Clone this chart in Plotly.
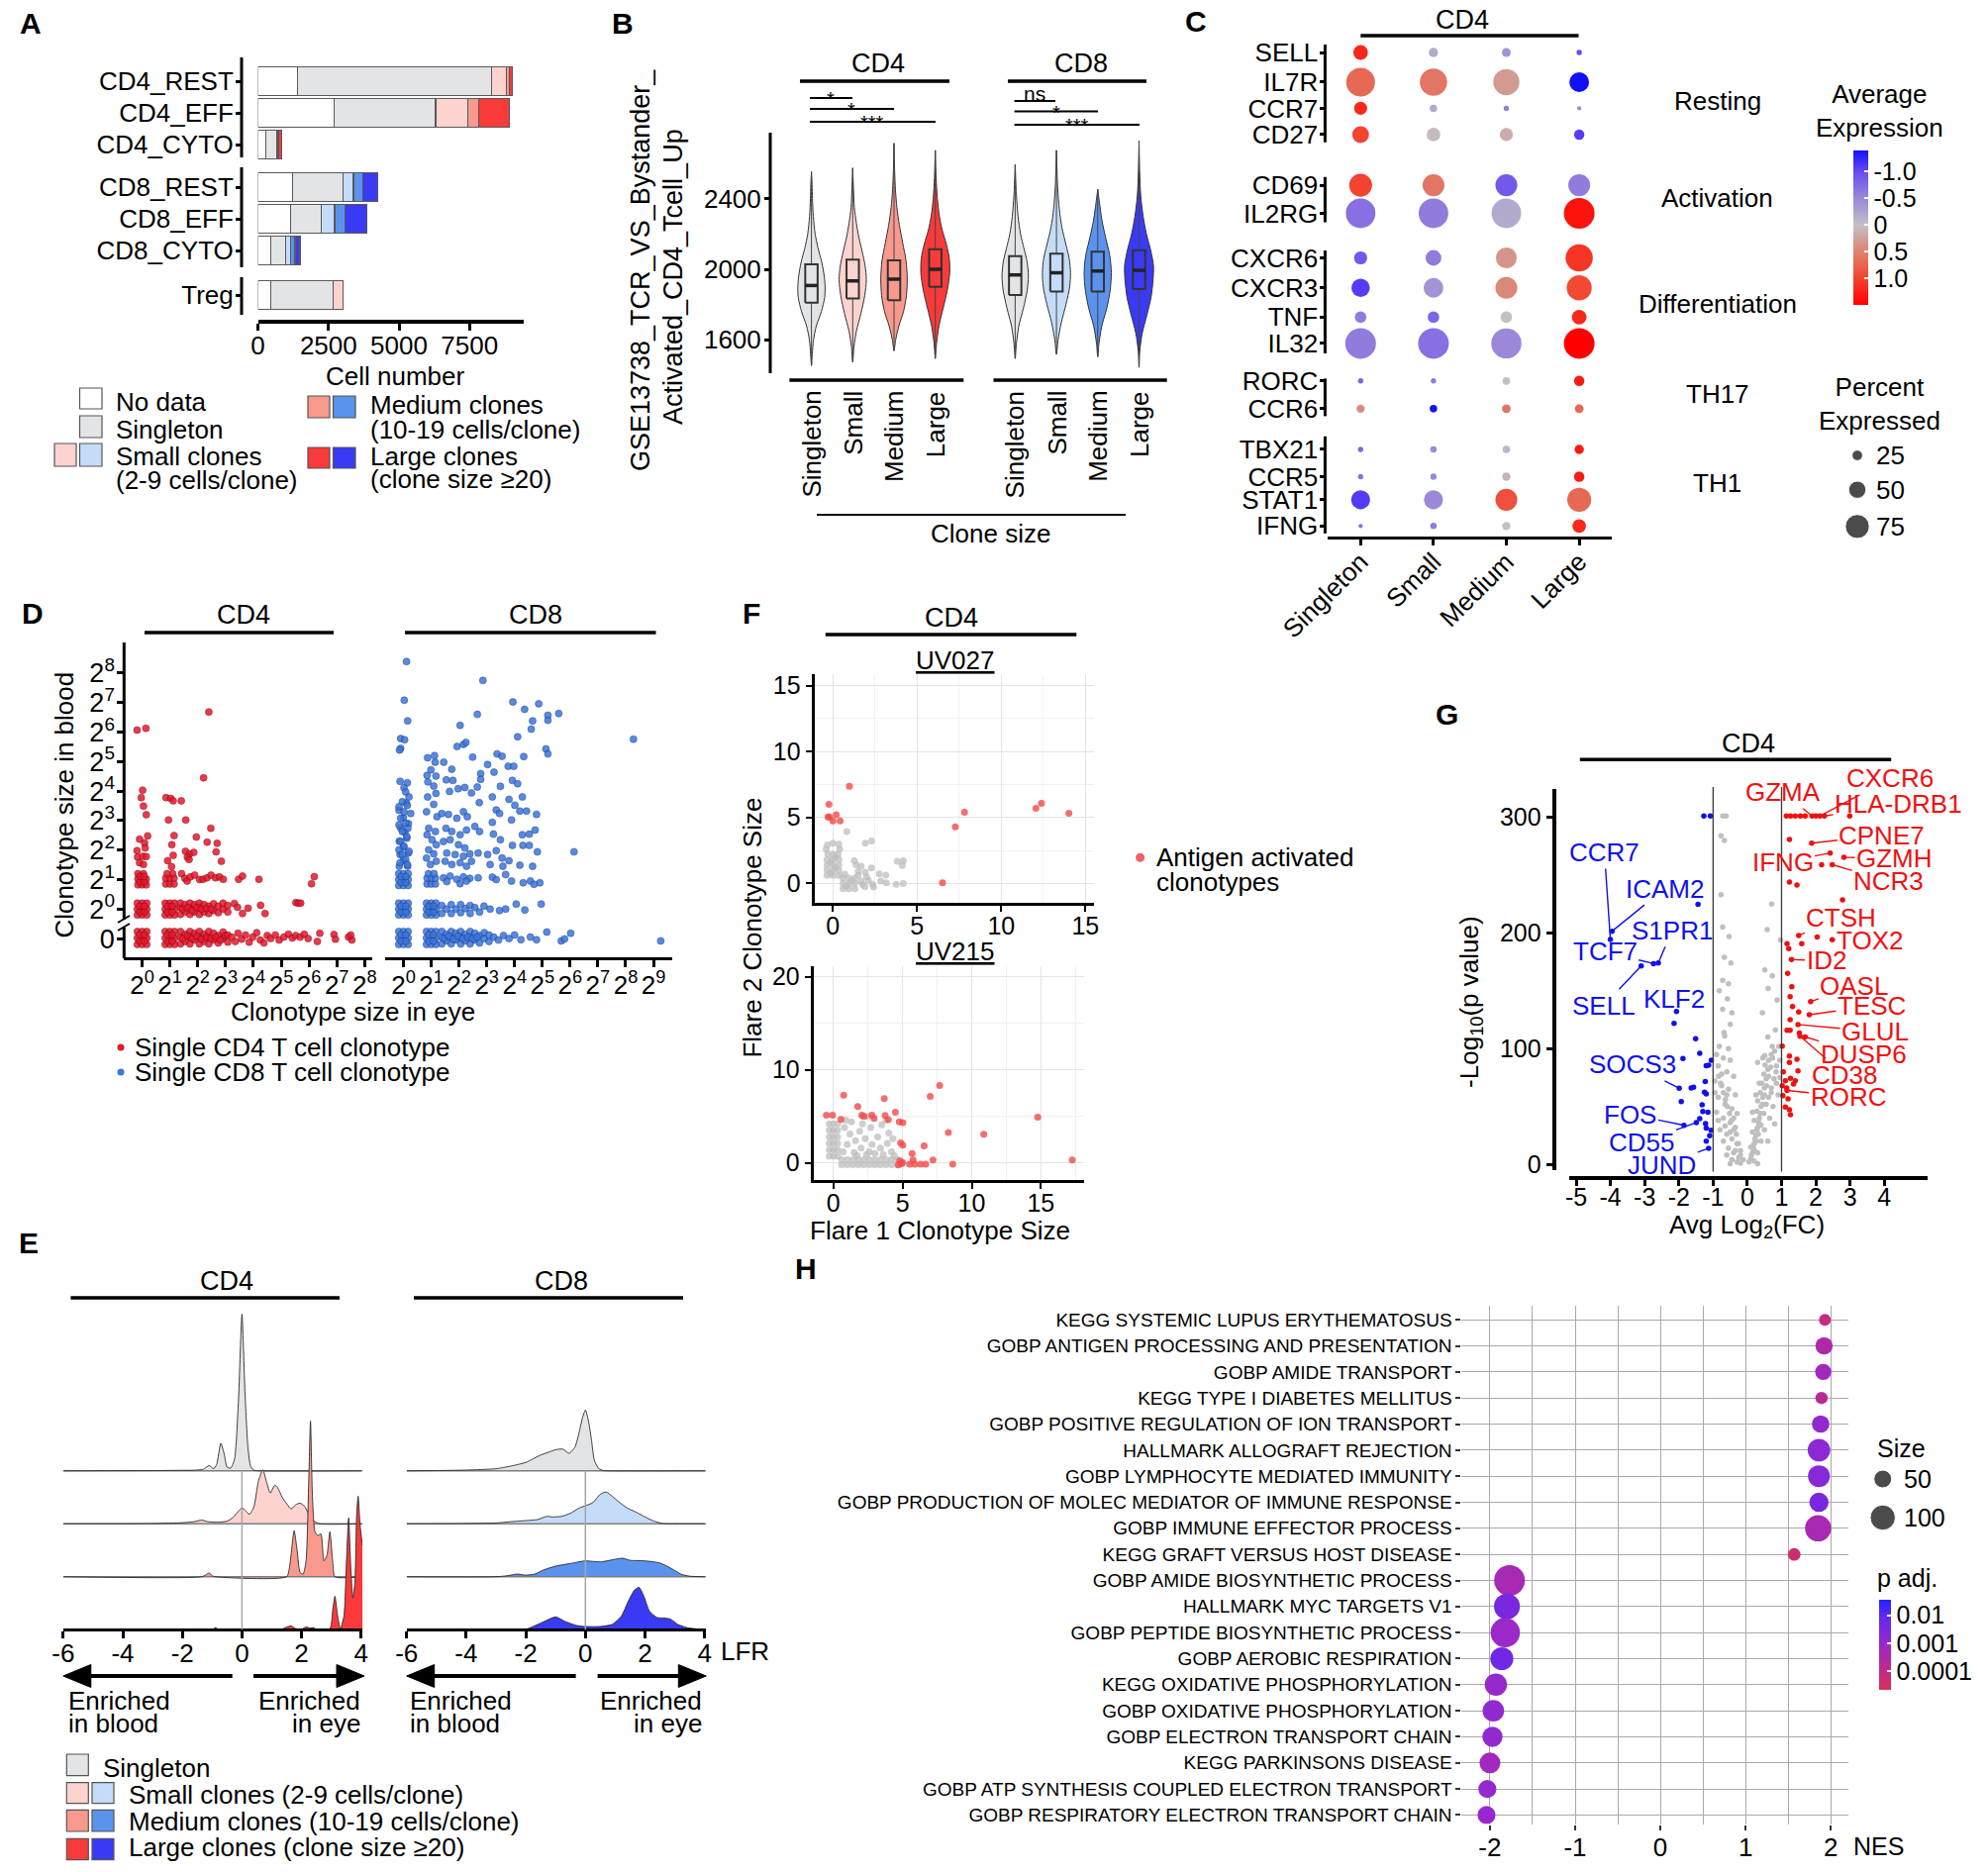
import math
import plotly.graph_objects as go

W, H = 2008, 1891
FONT = "Liberation Sans, Arial, Helvetica, sans-serif"

# ============================ DATA ============================
# ---- Panel A: cell numbers per cluster, split by clone-size class
A_CLUSTERS = ["CD4_REST", "CD4_EFF", "CD4_CYTO", "CD8_REST", "CD8_EFF", "CD8_CYTO", "Treg"]
A_LINEAGE = ["CD4", "CD4", "CD4", "CD8", "CD8", "CD8", "CD4"]
A_NODATA = [1407, 2691, 270, 1229, 1147, 464, 464]
A_SINGLETON = [6885, 3606, 380, 1776, 1107, 519, 2213]
A_SMALL = [520, 1148, 30, 383, 464, 164, 328]
A_MEDIUM = [95, 382, 40, 328, 356, 164, 0]
A_LARGE = [110, 1093, 110, 519, 792, 178, 0]
A_XTICKS = [0, 2500, 5000, 7500]

# ---- Panel B: module score by clone size (min, q1, median, q3, max) + violin profiles
B_LABELS = ["Singleton", "Small", "Medium", "Large", "Singleton", "Small", "Medium", "Large"]
B_MIN = [1454, 1474, 1538, 1494, 1494, 1518, 1504, 1444]
B_Q1 = [1810, 1834, 1824, 1900, 1854, 1874, 1874, 1888]
B_MED = [1908, 1934, 1944, 2000, 1968, 1980, 1990, 1994]
B_Q3 = [2028, 2054, 2050, 2114, 2074, 2088, 2100, 2108]
B_MAX = [2554, 2574, 2714, 2674, 2594, 2674, 2454, 2728]
B_PROFILES = [  # (score, half-density)
    [(1454, 0), (1520, .02), (1600, .05), (1680, .12), (1760, .24), (1840, .32), (1900, .33), (1960, .31), (2040, .25), (2120, .16), (2200, .09), (2300, .045), (2400, .025), (2480, .015), (2554, 0)],
    [(1474, 0), (1560, .03), (1650, .09), (1750, .2), (1850, .29), (1940, .33), (2020, .3), (2100, .23), (2180, .15), (2260, .09), (2350, .04), (2450, .02), (2574, 0)],
    [(1538, 0), (1600, .04), (1680, .12), (1760, .23), (1850, .3), (1950, .32), (2050, .29), (2150, .21), (2250, .13), (2350, .07), (2450, .035), (2560, .015), (2714, 0)],
    [(1494, 0), (1580, .03), (1680, .09), (1780, .19), (1880, .29), (1980, .35), (2060, .34), (2140, .27), (2220, .17), (2300, .1), (2400, .05), (2520, .02), (2674, 0)],
    [(1494, 0), (1580, .03), (1680, .09), (1780, .2), (1880, .29), (1960, .32), (2040, .29), (2120, .21), (2200, .13), (2300, .07), (2420, .03), (2594, 0)],
    [(1518, 0), (1600, .04), (1700, .12), (1800, .23), (1900, .32), (1980, .34), (2060, .31), (2140, .23), (2240, .13), (2340, .07), (2460, .03), (2674, 0)],
    [(1504, 0), (1580, .03), (1680, .1), (1780, .22), (1880, .3), (1980, .33), (2080, .29), (2180, .19), (2280, .1), (2380, .04), (2454, 0)],
    [(1444, 0), (1540, .02), (1640, .08), (1740, .19), (1840, .29), (1940, .34), (2020, .35), (2100, .29), (2200, .18), (2300, .1), (2420, .04), (2560, .015), (2728, 0)],
]
B_SIG_CD4 = ["*", "*", "***"]
B_SIG_CD8 = ["ns", "*", "***"]

# ---- Panel C: dot plot (percent expressed, average expression)
C_GENES = ["SELL", "IL7R", "CCR7", "CD27", "CD69", "IL2RG", "CXCR6", "CXCR3", "TNF", "IL32",
           "RORC", "CCR6", "TBX21", "CCR5", "STAT1", "IFNG"]
C_GROUPS = ["Singleton", "Small", "Medium", "Large"]
C_PCT = [[40, 20, 18, 5], [93, 87, 83, 59], [34, 13, 5, 1], [48, 36, 34, 24],
         [71, 67, 67, 67], [96, 96, 96, 100], [34, 44, 63, 87], [54, 59, 67, 79],
         [28, 28, 28, 40], [100, 100, 98, 100], [5, 5, 14, 24], [16, 13, 18, 18],
         [5, 9, 13, 20], [5, 9, 16, 24], [56, 56, 67, 75], [1, 9, 16, 36]]
C_AVG = [[1.2, -0.2, -0.4, -1.0], [0.7, 0.6, 0.3, -1.4], [1.2, -0.2, -0.6, -0.5], [1.0, 0.05, 0.15, -1.1],
         [1.0, 0.6, -0.9, -0.6], [-0.7, -0.6, -0.2, 1.35], [-0.9, -0.6, 0.35, 1.1], [-1.1, -0.4, 0.45, 0.95],
         [-0.6, -0.8, 0.0, 1.2], [-0.6, -0.7, -0.5, 1.5], [-0.8, -0.6, 0.0, 1.3], [0.4, -1.5, 0.6, 0.7],
         [-0.8, -0.5, -0.1, 1.3], [-0.7, -0.5, 0.1, 1.3], [-1.1, -0.5, 0.9, 0.7], [-0.7, -0.6, 0.0, 1.2]]
C_MODULES = ["Resting", "Activation", "Differentiation", "TH17", "TH1"]
C_SIZE_LEGEND = [25, 50, 75]

# ---- Panel D: clonotypes, log2(size in eye), log2(size in blood) (-1 = absent from blood)
D_CD4 = [
    (-0.17, -1.2), (0, -1.2), (0.17, -1.2), (-0.17, -0.98), (0, -0.98), (0.17, -0.98), (-0.17, -0.76), (0, -0.76), (0.17, -0.76),
    (-0.085, -1.09), (0.085, -1.09), (-0.085, -0.87), (0.085, -0.87),
    (-0.17, -0.2), (0, -0.2), (0.17, -0.2), (-0.17, 0), (0, 0), (0.17, 0), (-0.17, 0.2), (0, 0.2), (0.17, 0.2),
    (-0.085, -0.1), (0.085, -0.1), (-0.085, 0.1), (0.085, 0.1),
    (-0.15, 0.82), (0, 0.82), (0.15, 0.82), (-0.15, 1.02), (0, 1.02), (0.15, 1.02), (-0.15, 1.2), (0.05, 1.2),
    (-0.075, 0.92), (0.075, 0.92), (-0.075, 1.11), (0.075, 1.11),
    (0.83, -1.2), (1.0, -1.2), (1.17, -1.2), (0.83, -0.98), (1.0, -0.98), (1.17, -0.98), (0.83, -0.76), (1.0, -0.76), (1.17, -0.76),
    (0.915, -1.09), (1.085, -1.09), (0.915, -0.87), (1.085, -0.87),
    (1.38, -1.18), (1.38, -0.95), (1.38, -0.76), (1.55, -1.1), (1.55, -0.85), (1.72, -1.18), (1.72, -0.95), (1.72, -0.76),
    (1.89, -1.05), (1.89, -0.82), (2.06, -1.18), (2.06, -0.95), (2.06, -0.76), (2.23, -1.1), (2.23, -0.85), (2.4, -1.18),
    (2.4, -0.95), (2.4, -0.76), (2.57, -1.05), (2.57, -0.82), (2.74, -1.15), (2.74, -0.9), (2.91, -1.0), (2.91, -0.78),
    (1.46, -1.0), (1.63, -0.9), (1.8, -1.0), (1.97, -0.92), (2.14, -1.02), (2.31, -0.95), (2.48, -1.0), (2.65, -0.95),
    (2.82, -1.05), (3.0, -0.9),
    (3.08, -1.12), (3.08, -0.88), (3.22, -0.95), (3.35, -1.1), (3.45, -0.82), (3.58, -1.02), (3.72, -0.88), (3.85, -1.12),
    (3.98, -0.95), (4.12, -0.8), (4.25, -1.05), (4.38, -1.15), (4.5, -0.9), (4.62, -1.0), (4.79, -0.88), (4.93, -1.05),
    (5.1, -0.95), (5.26, -0.85), (5.4, -0.98), (5.52, -0.9), (5.68, -0.95), (5.83, -0.85), (5.97, -1.0), (6.3, -1.1),
    (6.39, -0.82), (6.9, -0.86), (6.95, -1.02), (7.42, -0.95), (7.54, -1.05), (7.5, -0.88),
    (0.83, -0.2), (1.0, -0.2), (1.17, -0.2), (0.83, 0), (1.0, 0), (1.17, 0), (0.83, 0.2), (1.0, 0.2), (1.17, 0.2),
    (0.915, -0.1), (1.085, -0.1), (0.915, 0.1), (1.085, 0.1),
    (1.38, -0.18), (1.38, 0.05), (1.38, 0.2), (1.55, -0.1), (1.55, 0.15), (1.72, -0.18), (1.72, 0.05), (1.72, 0.2),
    (1.89, -0.1), (1.89, 0.15), (2.06, -0.18), (2.06, 0.05), (2.06, 0.2), (2.23, -0.1), (2.23, 0.15), (2.4, -0.15),
    (2.4, 0.1), (2.57, -0.05), (2.57, 0.18), (2.74, -0.12), (2.74, 0.1), (2.91, 0.0), (2.91, 0.2), (3.08, -0.1), (3.08, 0.12),
    (1.46, 0.0), (1.63, 0.05), (1.8, -0.05), (1.97, 0.05), (2.14, 0.0), (2.31, 0.02), (2.48, 0.0),
    (3.32, 0.19), (3.43, 0.06), (3.61, -0.15), (3.81, 0.03), (4.26, 0.13), (4.42, -0.15), (5.53, 0.22), (5.62, 0.2), (5.7, 0.2),
    (0.85, 0.85), (1.0, 0.85), (1.15, 0.85), (0.85, 1.05), (1.0, 1.05), (1.15, 1.05), (0.9, 1.2), (1.1, 1.2),
    (1.42, 1.2), (1.54, 1.04), (1.62, 0.95), (1.74, 1.09), (1.89, 1.15), (2.07, 1.0), (2.19, 1.01), (2.33, 1.06),
    (2.48, 1.15), (2.64, 1.06), (2.78, 1.09), (2.92, 1.01), (3.47, 1.01), (3.61, 1.12), (4.2, 1.01), (6.19, 1.10), (6.09, 0.86),
    (-0.18, 6.07), (0.14, 6.13), (2.40, 6.68), (2.21, 4.45), (0.02, 4.03), (-0.03, 3.78), (0.05, 3.49), (0.15, 3.20),
    (0.20, 2.48), (-0.09, 2.37), (0.09, 2.24), (0.11, 2.07), (-0.18, 1.98), (-0.16, 1.76), (0.03, 1.79), (0.15, 1.78),
    (-0.09, 1.57), (0.05, 1.51), (0.86, 3.78), (1.03, 3.75), (1.12, 3.67), (1.41, 3.67), (0.95, 3.02), (1.57, 3.02),
    (1.15, 2.49), (1.95, 2.44), (1.07, 2.18), (2.47, 2.74), (2.34, 2.27), (2.70, 2.23), (2.66, 1.94), (2.85, 1.62),
    (1.12, 1.82), (0.92, 1.64), (1.06, 1.44), (1.56, 1.96), (1.71, 1.87), (1.86, 1.92), (1.63, 1.76), (1.69, 1.68),
]
D_CD8 = [
    (-0.17, -1.2), (0, -1.2), (0.17, -1.2), (-0.17, -0.98), (0, -0.98), (0.17, -0.98), (-0.17, -0.76), (0, -0.76), (0.17, -0.76),
    (-0.085, -1.09), (0.085, -1.09), (-0.085, -0.87), (0.085, -0.87),
    (-0.17, -0.2), (0, -0.2), (0.17, -0.2), (-0.17, 0), (0, 0), (0.17, 0), (-0.17, 0.2), (0, 0.2), (0.17, 0.2),
    (-0.085, -0.1), (0.085, -0.1), (-0.085, 0.1), (0.085, 0.1),
    (-0.17, 0.8), (0, 0.8), (0.17, 0.8), (-0.17, 1.0), (0, 1.0), (0.17, 1.0), (-0.17, 1.2), (0, 1.2), (0.17, 1.2),
    (-0.085, 0.9), (0.085, 0.9), (-0.085, 1.1), (0.085, 1.1),
    (-0.15, 1.45), (0.15, 1.45), (0, 1.65), (-0.12, 1.85), (0.18, 1.9), (0.0, 2.1), (-0.15, 2.3), (0.12, 2.4),
    (0.05, 2.6), (-0.1, 2.75), (0.18, 2.9), (0.0, 3.1), (-0.16, 3.35), (0.1, 3.6),
    (-0.12, 4.33), (0.14, 4.28), (0.02, 4.11), (0.08, 3.97), (0.20, 3.80), (-0.04, 3.64), (-0.16, 3.47), (0.14, 3.52),
    (0.02, 3.30), (0.26, 3.24), (-0.10, 3.08), (0.08, 2.91), (-0.16, 2.85), (0.16, 2.74), (-0.04, 2.63), (0.12, 2.46),
    (-0.10, 2.29), (0.02, 2.13), (-0.16, 2.01), (0.20, 1.96), (-0.04, 1.85), (0.08, 1.68), (-0.12, 1.57), (0.14, 1.51),
    (0.11, 8.39), (0.03, 7.08), (0.15, 6.38), (-0.10, 5.78), (0.04, 5.74), (-0.10, 5.45), (-0.14, 5.39),
    (0.83, -1.2), (1.0, -1.2), (1.17, -1.2), (0.83, -0.98), (1.0, -0.98), (1.17, -0.98), (0.83, -0.76), (1.0, -0.76), (1.17, -0.76),
    (0.915, -1.09), (1.085, -1.09), (0.915, -0.87), (1.085, -0.87),
    (0.83, -0.2), (1.0, -0.2), (1.17, -0.2), (0.83, 0), (1.0, 0), (1.17, 0), (0.83, 0.2), (1.0, 0.2), (1.17, 0.2),
    (0.915, -0.1), (1.085, -0.1), (0.915, 0.1), (1.085, 0.1),
    (0.85, 0.85), (1.0, 0.85), (1.15, 0.85), (0.85, 1.05), (1.0, 1.05), (1.15, 1.05), (0.9, 1.2), (1.1, 1.2),
    (0.87, 3.8), (1.09, 3.55), (0.83, 3.3), (1.21, 3.13), (0.91, 2.74), (1.15, 2.63), (0.85, 2.52), (1.03, 2.35),
    (1.18, 2.18), (0.91, 2.01), (1.09, 1.87), (0.83, 1.73), (1.18, 1.62), (0.97, 1.51),
    (0.87, 5.13), (1.12, 5.20), (1.14, 4.98), (1.45, 4.98), (1.74, 4.74), (0.99, 4.72), (1.17, 4.51), (0.85, 4.53),
    (0.88, 4.31), (1.09, 4.17), (1.17, 3.92), (1.54, 4.38), (1.78, 4.36), (1.66, 3.99), (1.97, 4.08), (2.21, 4.12),
    (2.45, 3.94), (2.04, 6.23), (1.93, 5.51), (2.16, 5.58), (2.25, 5.65), (2.49, 5.15),
    (1.38, 3.24), (1.62, 3.21), (1.92, 3.08), (2.16, 3.30), (2.30, 3.13), (1.53, 2.74), (1.74, 2.63), (2.04, 2.52),
    (2.27, 2.68), (1.44, 2.29), (1.68, 2.35), (1.98, 2.18), (2.21, 2.07), (1.56, 1.90), (1.86, 1.85), (2.16, 1.79),
    (2.39, 1.87), (1.50, 1.62), (1.74, 1.51), (2.04, 1.57), (2.27, 1.45), (2.45, 1.62),
    (1.44, 1.06), (1.68, 1.12), (1.92, 1.01), (2.16, 1.09), (2.39, 1.04), (1.56, 0.93), (2.04, 0.86), (2.27, 0.95),
    (1.38, -0.15), (1.38, 0.12), (1.55, 0.0), (1.72, -0.15), (1.72, 0.15), (1.89, 0.0), (2.06, -0.12), (2.06, 0.15),
    (2.23, 0.02), (2.4, -0.15), (2.4, 0.12), (2.57, 0.05), (2.74, -0.1), (2.9, 0.1), (3.12, 0.0), (3.46, -0.05),
    (3.68, 0.0), (4.06, 0.17), (4.37, -0.03), (4.96, 0.17),
    (1.38, -1.18), (1.38, -0.95), (1.38, -0.76), (1.55, -1.08), (1.55, -0.85), (1.72, -1.18), (1.72, -0.95), (1.72, -0.76),
    (1.89, -1.05), (1.89, -0.82), (2.06, -1.18), (2.06, -0.95), (2.06, -0.76), (2.23, -1.08), (2.23, -0.85), (2.4, -1.18),
    (2.4, -0.95), (2.4, -0.76), (2.57, -1.05), (2.57, -0.82), (2.74, -1.15), (2.74, -0.9), (2.91, -1.0), (2.91, -0.8),
    (1.46, -1.0), (1.63, -0.92), (1.8, -1.02), (1.97, -0.92), (2.14, -1.0), (2.31, -0.95), (2.48, -1.0), (2.65, -0.95),
    (3.08, -1.1), (3.08, -0.88), (3.25, -0.95), (3.42, -1.05), (3.6, -0.9), (3.8, -1.0), (4.0, -0.88), (4.23, -1.04),
    (4.57, -0.95), (4.79, -1.04), (5.16, -0.78), (5.68, -1.08), (5.80, -1.01), (6.02, -0.82), (9.26, -1.08),
    (2.86, 7.75), (2.66, 6.60), (3.94, 7.02), (4.36, 6.77), (4.87, 6.96), (4.65, 6.38), (5.20, 6.57), (5.20, 6.40),
    (5.59, 6.63), (4.60, 6.10), (4.11, 5.84), (8.28, 5.76), (5.13, 5.43), (5.20, 5.26), (4.33, 5.17), (3.37, 5.26),
    (3.55, 5.18), (3.03, 4.90), (3.77, 4.84), (3.97, 4.84), (2.78, 4.59), (3.26, 4.64), (2.78, 4.40), (2.66, 4.14),
    (3.49, 4.16), (3.92, 4.36), (4.11, 4.25), (4.28, 3.80), (3.20, 3.80), (2.73, 3.61), (3.80, 3.72), (4.01, 3.52),
    (4.19, 3.32), (4.43, 3.32), (3.34, 3.36), (3.46, 3.24), (4.79, 3.21), (3.20, 2.94), (2.57, 2.80), (3.89, 3.02),
    (2.74, 2.63), (3.24, 2.54), (3.49, 2.35), (3.92, 2.16), (4.28, 2.52), (4.53, 2.54), (4.74, 2.68), (4.30, 2.16),
    (4.53, 2.16), (4.82, 1.94), (6.14, 1.94), (2.69, 1.90), (3.03, 1.85), (3.34, 1.98), (3.55, 1.73), (3.80, 1.64),
    (3.12, 1.51), (3.58, 1.45), (4.19, 1.49), (4.65, 1.45), (2.69, 1.06), (3.20, 1.08), (3.34, 1.0), (3.68, 1.17),
    (3.89, 0.95), (4.31, 0.89), (4.57, 0.95), (4.91, 0.89), (4.70, 0.84),
]

# ---- Panel E: LFR density ridges (singleton, small, medium, large)
E_CD4 = [
    [(-6, 0), (-3, .005), (-2, .01), (-1.6, .012), (-1.3, .03), (-1.1, .1), (-0.95, .04), (-0.85, .12), (-0.71, .52), (-0.6, .33), (-0.5, .07), (-0.38, .05), (-0.25, .22), (-0.12, 1.3), (0, 2.96), (0.1, 1.5), (0.2, .45), (0.3, .07), (0.42, .01), (0.6, 0), (4, 0)],
    [(-6, 0), (-3, .005), (-2, .02), (-1.6, .04), (-1.35, .07), (-1.15, .04), (-0.8, .03), (-0.5, .05), (-0.3, .12), (-0.1, .25), (0, .3), (0.1, .26), (0.25, .18), (0.4, .32), (0.55, .8), (0.7, 1.02), (0.82, .8), (0.95, .58), (1.1, .73), (1.2, .68), (1.35, .5), (1.5, .38), (1.65, .28), (1.8, .36), (1.95, .39), (2.1, .33), (2.3, .12), (2.45, .04), (2.6, 0), (4, 0)],
    [(-6, 0), (-1.35, 0), (-1.2, .04), (-1.1, .07), (-1.0, .02), (-0.9, 0), (1.5, 0), (1.6, .2), (1.75, .87), (1.85, .5), (1.95, .08), (2.05, .05), (2.15, .3), (2.24, 1.8), (2.3, 2.94), (2.36, 1.6), (2.45, .85), (2.55, .78), (2.65, .81), (2.75, .3), (2.85, .4), (2.95, .85), (3.05, .25), (3.12, 0), (4, 0)],
    [(-6, 0), (-1.0, 0), (-0.88, .04), (-0.78, 0), (1.3, 0), (1.5, .05), (1.65, .07), (1.8, .02), (2.0, .01), (2.15, .05), (2.3, .03), (2.4, .04), (2.5, 0), (2.95, .02), (3.05, .4), (3.12, .63), (3.2, .3), (3.3, .02), (3.42, .25), (3.5, 1.2), (3.58, 2.11), (3.65, 1.2), (3.72, .6), (3.79, .9), (3.85, 2.2), (3.9, 2.52), (3.96, 2.0), (4.04, 1.6)],
]
E_CD8 = [
    [(-6, 0), (-5, .005), (-4, .015), (-3, .04), (-2.5, .09), (-2, .16), (-1.5, .3), (-1.2, .36), (-1.0, .4), (-0.75, .41), (-0.55, .33), (-0.35, .45), (-0.2, .75), (-0.1, 1.0), (0, 1.15), (0.1, .95), (0.2, .6), (0.3, .2), (0.45, .04), (0.6, .005), (0.8, 0), (4, 0)],
    [(-6, 0), (-4, .005), (-3, .015), (-2.5, .04), (-2, .06), (-1.6, .08), (-1.3, .14), (-1.1, .13), (-0.8, .14), (-0.5, .2), (-0.2, .3), (0, .34), (0.25, .4), (0.5, .56), (0.7, .6), (0.9, .52), (1.15, .4), (1.4, .3), (1.7, .22), (2.0, .13), (2.3, .05), (2.6, .005), (2.8, 0), (4, 0)],
    [(-6, 0), (-3.0, 0), (-2.6, .02), (-2.3, .05), (-2.0, .03), (-1.7, .05), (-1.4, .13), (-1.0, .2), (-0.5, .25), (0, .3), (0.5, .28), (1.0, .33), (1.25, .35), (1.5, .31), (2.0, .3), (2.5, .26), (2.9, .15), (3.2, .05), (3.5, .01), (4, 0)],
    [(-6, 0), (-2.05, 0), (-1.8, .05), (-1.4, .15), (-1.0, .24), (-0.7, .16), (-0.3, .08), (0, .06), (0.5, .06), (0.9, .1), (1.2, .25), (1.45, .55), (1.65, .75), (1.8, .8), (1.95, .65), (2.15, .35), (2.4, .23), (2.65, .22), (2.85, .2), (3.1, .1), (3.4, .04), (3.8, .01), (4, 0)],
]
E_XTICKS = [-6, -4, -2, 0, 2, 4]

# ---- Panel F: clonotype sizes in flare 1 vs flare 2
F_UV027_GRAY = [
    (-0.35, 0.6), (0, 0.6), (0.35, 0.6), (-0.35, 1.0), (0, 1.0), (0.35, 1.0), (-0.35, 1.4), (0, 1.4), (0.35, 1.4),
    (-0.35, 1.8), (0, 1.8), (0.35, 1.8), (-0.3, 2.2), (0, 2.2), (0.3, 2.2), (-0.15, 0.8), (0.15, 1.2), (-0.15, 1.6), (0.15, 2.0),
    (0.6, -0.4), (0.95, -0.4), (1.3, -0.4), (0.6, 0), (0.95, 0), (1.3, 0), (0.6, 0.4), (0.95, 0.4), (1.3, 0.4),
    (0.78, -0.2), (1.12, 0.2), (1.5, 0.6), (0.7, 0.7),
    (-0.33, 2.92), (0, 3.04), (0.35, 2.97), (0.82, 3.92), (1.92, 3.04), (2.29, 3.22), (1.27, 1.72), (1.37, 1.42),
    (1.67, 1.30), (1.92, 0.85), (2.29, 1.17), (2.1, 0.22), (2.35, -0.07), (2.41, -0.27), (2.75, 0.72), (3.14, 0.62),
    (2.84, 0.17), (3.18, 0.05), (3.76, -0.07), (4.18, -0.02), (3.82, 1.67), (4.18, 1.72), (4.12, 1.35), (1.76, -0.07),
    (1.67, 0.17), (1.9, -0.25), (2.0, 0.5), (1.5, 0.9), (-0.4, 2.6), (0.4, 2.6),
]
F_UV027_RED = [(-0.24, 5.99), (-0.29, 5.04), (-0.2, 5.04), (0, 4.74), (0.2, 5.21), (0.43, 4.74), (0.98, 7.36),
               (7.27, 4.29), (7.82, 5.39), (6.51, 0.05), (12.06, 5.69), (12.39, 6.07), (14.02, 5.31)]
F_UV215_GRAY = [
    (-0.3, 0.7), (0, 0.7), (0.3, 0.7), (-0.3, 1.4), (0, 1.4), (0.3, 1.4), (-0.3, 2.1), (0, 2.1), (0.3, 2.1),
    (-0.3, 2.8), (0, 2.8), (0.3, 2.8), (-0.3, 3.5), (0, 3.5), (0.3, 3.5), (-0.3, 4.2), (0, 4.2), (0.3, 4.2),
    (0.6, -0.2), (1.0, -0.2), (1.4, -0.2), (1.8, -0.2), (2.2, -0.2), (2.6, -0.2), (3.0, -0.2), (3.4, -0.2), (3.8, -0.2), (4.2, -0.2), (4.6, -0.2),
    (0.6, 0.35), (1.0, 0.35), (1.4, 0.35), (1.8, 0.35), (2.2, 0.35), (2.6, 0.35), (3.0, 0.35), (3.4, 0.35), (3.8, 0.35), (4.2, 0.35), (4.6, 0.35),
    (0.7, 1.2), (1.0, 2.0), (1.2, 3.1), (0.8, 3.8), (1.5, 1.1), (1.6, 2.4), (1.9, 3.4), (2.0, 1.6), (2.3, 2.6), (2.1, 4.2),
    (2.6, 1.2), (2.8, 2.0), (2.7, 3.8), (3.0, 1.0), (3.2, 2.8), (3.4, 1.6), (3.6, 0.9), (3.9, 2.1), (4.2, 1.2), (4.0, 3.2),
    (4.4, 0.8), (1.3, 4.4), (2.5, 5.0), (3.5, 4.1), (0.9, 4.6), (1.7, 0.8), (2.4, 0.9), (3.8, 4.6), (4.3, 2.6),
]
F_UV215_RED = [
    (-0.51, 5.14), (-0.06, 5.14), (0.54, 4.68), (0.74, 7.27), (1.76, 6.05), (2.05, 5.14), (2.21, 5.0), (2.78, 5.14),
    (2.94, 4.77), (3.68, 6.91), (3.74, 5.09), (3.97, 4.64), (4.48, 5.45), (4.76, 4.41), (5.02, 4.32), (7.0, 7.14),
    (7.68, 8.32), (8.31, 3.27), (10.87, 3.09), (14.77, 4.91), (17.27, 0.32), (4.86, 2.14), (5.02, 1.91), (6.56, 1.82),
    (5.69, 1.0), (5.76, 0.32), (4.80, 0.23), (4.92, -0.09), (4.70, -0.23), (5.50, -0.14), (5.88, -0.14), (6.30, -0.14),
    (6.68, -0.14), (7.20, 0.32), (8.63, -0.14), (5.0, 0.05),
]

# ---- Panel G: volcano (avg log2FC, -log10 p)
G_GRAY = [
    (-0.72, 301), (-0.62, 301), (-0.77, 284), (-0.67, 280), (-0.77, 233), (-0.72, 205), (-0.53, 197), (-0.67, 179),
    (-0.48, 174), (-0.72, 159), (-0.55, 156), (-0.82, 150), (-0.58, 143), (-0.72, 134), (-0.45, 131), (-0.50, 121),
    (-0.68, 114), (-0.66, 111), (-0.82, 102), (-0.9, 95), (-0.7, 92), (-0.5, 90), (-0.85, 85), (-0.6, 80), (-0.4, 76),
    (-0.95, 72), (-0.75, 68), (-0.55, 65), (-0.35, 60), (-0.85, 58), (-0.65, 52), (-0.45, 48), (-0.3, 44), (-0.9, 45),
    (-0.7, 40), (-0.5, 36), (-0.35, 32), (-0.8, 30), (-0.6, 26), (-0.45, 22), (-0.3, 18), (-0.7, 20), (-0.55, 14),
    (-0.4, 10), (-0.25, 6), (-0.6, 8), (-0.45, 4), (-0.3, 2), (-0.2, 1), (-0.5, 0.5), (-0.35, 12), (-0.2, 8),
    (-0.65, 33), (-0.5, 28), (-0.85, 38), (-0.4, 40), (-0.6, 60), (-0.75, 78), (-0.55, 100), (-0.95, 62),
    (-0.12, 4), (-0.2, 12), (-0.26, 18), (-0.32, 26), (-0.4, 30), (-0.46, 38), (-0.52, 44), (-0.58, 50), (-0.64, 56),
    (-0.7, 62), (-0.78, 70), (-0.84, 76),
    (0.05, 2), (0.1, 5), (0.15, 10), (0.1, 15), (0.2, 18), (0.25, 25), (0.15, 28), (0.3, 32), (0.2, 38), (0.35, 40),
    (0.28, 46), (0.4, 50), (0.3, 55), (0.45, 58), (0.38, 62), (0.5, 66), (0.42, 70), (0.55, 74), (0.48, 78), (0.6, 82),
    (0.52, 86), (0.62, 90), (0.3, 88), (0.45, 92), (0.7, 95), (0.8, 98), (0.73, 102), (0.92, 102), (0.51, 94),
    (0.82, 116), (0.44, 131), (0.87, 142), (0.61, 152), (0.73, 163), (0.51, 168), (0.97, 194), (0.58, 203), (0.71, 225),
    (0.85, 85), (0.95, 75), (0.9, 60), (0.75, 50), (0.65, 40), (0.5, 30), (0.4, 20), (0.3, 10), (0.2, 3), (0.6, 20),
    (0.8, 35), (0.7, 62), (0.85, 70), (0.35, 70), (0.25, 60), (0.15, 45), (0.95, 90), (0.6, 110), (0.3, 0.5),
    (0.12, 8), (0.18, 14), (0.22, 22), (0.28, 30), (0.33, 36), (0.38, 44), (0.44, 52), (0.5, 60), (0.56, 68), (0.62, 76),
    (0.68, 84), (0.74, 92), (0.2, 12), (0.26, 20), (0.32, 26), (0.4, 34), (0.48, 44), (0.55, 52), (0.62, 58), (0.7, 66),
    (0.78, 74), (0.84, 80),
]
G_BLUE = [(-1.27, 301), (-1.08, 301), (-1.44, 224.8), (-2.14, 121.9), (-1.51, 108.5), (-1.39, 96), (-1.88, 91.4),
          (-1.2, 85.2), (-1.13, 85.7), (-1.64, 66), (-1.57, 66.6), (-1.23, 71.5), (-1.25, 62.3), (-1.2, 61),
          (-1.93, 54.3), (-1.32, 51.5), (-1.3, 45.8), (-1.39, 39.5), (-1.22, 35.2), (-1.2, 31.5), (-1.06, 29.5),
          (-1.1, 24.7), (-1.05, 90), (-1.15, 45), (-1.2, 20)]
G_RED = [(1.14, 301), (1.26, 301), (1.40, 301), (1.55, 301), (1.69, 301), (2.0, 301), (2.99, 301), (1.23, 280.7),
         (2.17, 259), (1.23, 244), (1.45, 241.4), (2.78, 228.6), (1.59, 190.7), (2.04, 196.4), (1.16, 190.7),
         (1.21, 186.4), (1.18, 165), (1.30, 153.6), (1.25, 145), (1.32, 136.5), (1.25, 125), (1.50, 131.6),
         (1.16, 115.9), (1.25, 115.9), (1.52, 113.6), (1.02, 102.2), (1.23, 93.7), (1.45, 90.8), (1.23, 88),
         (1.48, 80.8), (1.11, 72.3), (1.26, 74.3), (1.40, 72.3), (1.35, 69.5), (1.02, 68), (1.04, 59.5), (1.11, 49.5),
         (1.23, 47.2), (1.26, 43), (1.19, 56.6), (1.05, 80), (1.15, 66)]
G_DOWN_GENES = [("CCR7", -4.0, 194.3), ("ICAM2", -3.95, 201.5), ("TCF7", -2.74, 173.5), ("S1PR1", -2.6, 174),
                ("SELL", -3.1, 171.5), ("KLF2", -2.07, 132.2), ("SOCS3", -1.99, 65.8), ("FOS", -1.85, 33.8),
                ("CD55", -1.49, 36.1), ("JUND", -1.13, 13.9)]
G_UP_GENES = [("GZMA", 1.89, 301), ("CXCR6", 2.12, 301), ("HLA-DRB1", 2.25, 301), ("CPNE7", 1.88, 277.6),
              ("IFNG", 2.42, 269), ("GZMH", 2.82, 265.3), ("NCR3", 2.48, 259), ("CTSH", 1.50, 197.8),
              ("TOX2", 2.48, 194.1), ("ID2", 1.29, 177), ("OASL", 1.85, 140.7), ("TESC", 1.81, 129.3),
              ("GLUL", 1.48, 120.8), ("DUSP6", 1.69, 110.2), ("CD38", 1.54, 110.8), ("RORC", 1.16, 63.8)]
G_XTICKS = [-5, -4, -3, -2, -1, 0, 1, 2, 3, 4]
G_YTICKS = [0, 100, 200, 300]

# ---- Panel H: GSEA
H_TERMS = ["KEGG SYSTEMIC LUPUS ERYTHEMATOSUS", "GOBP ANTIGEN PROCESSING AND PRESENTATION", "GOBP AMIDE TRANSPORT",
           "KEGG TYPE I DIABETES MELLITUS", "GOBP POSITIVE REGULATION OF ION TRANSPORT", "HALLMARK ALLOGRAFT REJECTION",
           "GOBP LYMPHOCYTE MEDIATED IMMUNITY", "GOBP PRODUCTION OF MOLEC MEDIATOR OF IMMUNE RESPONSE",
           "GOBP IMMUNE EFFECTOR PROCESS", "KEGG GRAFT VERSUS HOST DISEASE", "GOBP AMIDE BIOSYNTHETIC PROCESS",
           "HALLMARK MYC TARGETS V1", "GOBP PEPTIDE BIOSYNTHETIC PROCESS", "GOBP AEROBIC RESPIRATION",
           "KEGG OXIDATIVE PHOSPHORYLATION", "GOBP OXIDATIVE PHOSPHORYLATION", "GOBP ELECTRON TRANSPORT CHAIN",
           "KEGG PARKINSONS DISEASE", "GOBP ATP SYNTHESIS COUPLED ELECTRON TRANSPORT",
           "GOBP RESPIRATORY ELECTRON TRANSPORT CHAIN"]
H_NES = [1.93, 1.92, 1.91, 1.89, 1.88, 1.86, 1.86, 1.86, 1.85, 1.57, -1.77, -1.80, -1.82, -1.86, -1.93, -1.96,
         -1.97, -2.0, -2.03, -2.04]
H_SIZE = [22, 47, 41, 24, 48, 80, 75, 58, 108, 25, 148, 106, 135, 83, 78, 73, 64, 68, 51, 51]
H_PADJ = [8e-5, 3e-4, 6e-4, 1.6e-4, 1.3e-3, 1.8e-3, 2e-3, 3.5e-3, 4.5e-4, 4.5e-5, 4.5e-4, 3.5e-3, 9e-4, 5e-3,
          1.1e-3, 1.3e-3, 1.3e-3, 6e-4, 1.1e-3, 1.1e-3]
H_XTICKS = [-2, -1, 0, 1, 2]
H_SIZE_LEGEND = [50, 100]

# ============================ STYLE / HELPERS ============================
SINGLE = "#e3e4e6"
REDS = ["#fdd3cf", "#f8998d", "#f83a3a"]
BLUES = ["#c4dcf8", "#5a93ee", "#3a3af5"]
OUT = "#595959"

def PX(x): return x / W
def PY(y): return 1 - y / H
def xdom(a, b): return [a / W, b / W]
def ydom(top, bottom): return [1 - bottom / H, 1 - top / H]
def rng(p_lo, p_hi, va, pa, vb, pb):
    k = (vb - va) / (pb - pa)
    return [va + (p_lo - pa) * k, va + (p_hi - pa) * k]

ann, shp = [], []

def T(x, y, s, size=26, xa="center", ya="middle", angle=0, color="black", bold=False):
    if bold:
        s = "<b>" + s + "</b>"
    ann.append(dict(x=PX(x), y=PY(y), xref="paper", yref="paper", text=s, showarrow=False,
                    xanchor=xa, yanchor=ya, textangle=angle,
                    font=dict(size=size, color=color, family=FONT)))

def L(x0, y0, x1, y1, w=3, color="black"):
    shp.append(dict(type="line", xref="paper", yref="paper", x0=PX(x0), y0=PY(y0), x1=PX(x1), y1=PY(y1),
                    line=dict(color=color, width=w)))

def R(x0, y0, x1, y1, fill, line="#555555", w=1.2):
    shp.append(dict(type="rect", xref="paper", yref="paper", x0=PX(x0), y0=PY(y1), x1=PX(x1), y1=PY(y0),
                    fillcolor=fill, line=dict(color=line, width=w)))

def TRI(pts, fill="black"):
    path = "M " + " L ".join("%f,%f" % (PX(a), PY(b)) for a, b in pts) + " Z"
    shp.append(dict(type="path", xref="paper", yref="paper", path=path, fillcolor=fill,
                    line=dict(color=fill, width=1)))

def axis(domain, range_, **kw):
    d = dict(domain=domain, range=range_, showgrid=False, zeroline=False, showline=False, ticks="",
             showticklabels=False, linecolor="black", linewidth=3, tickcolor="black", tickangle=0,
             automargin=False, tickfont=dict(size=26, color="black", family=FONT), fixedrange=True)
    d.update(kw)
    return d

fig = go.Figure()
axes = {}

# ============================ PANEL A ============================
A_POS = [0, 1, 2, 3.35, 4.35, 5.35, 6.75]
axes["xaxis"] = axis(xdom(260.6, 529), rng(260.6, 529, 0, 260.6, 2500, 331.8), anchor="free", position=PY(325),
                     showline=True, linewidth=3.5, ticks="outside", ticklen=7, tickwidth=2.5, ticklabelstandoff=-7,
                     tickvals=A_XTICKS, ticktext=[str(v) for v in A_XTICKS], showticklabels=True)
axes["yaxis"] = axis(ydom(50, 330), rng(330, 50, 0, 82, 1, 114), anchor="free", position=PX(244),
                     ticks="outside", ticklen=6, tickwidth=2.5, tickvals=A_POS, ticktext=A_CLUSTERS,
                     ticklabelstandoff=-3, showticklabels=True)

def lineage_cols(level):
    return [REDS[level] if lin == "CD4" else BLUES[level] for lin in A_LINEAGE]

for vals, cols in [(A_NODATA, ["white"] * 7), (A_SINGLETON, [SINGLE] * 7), (A_SMALL, lineage_cols(0)),
                   (A_MEDIUM, lineage_cols(1)), (A_LARGE, lineage_cols(2))]:
    fig.add_trace(go.Bar(x=vals, y=A_POS, orientation="h", width=0.9,
                         marker=dict(color=cols, line=dict(color=OUT, width=1.2)),
                         xaxis="x", yaxis="y", hoverinfo="skip"))
for a, b in [(58, 159), (169, 270), (280, 318)]:
    L(244, a, 244, b, w=3)
T(399, 380, "Cell number")
R(80.5, 392, 103, 413, "white"); T(115, 406, "No data", xa="left")
R(80.5, 420, 103, 442, SINGLE); T(115, 434, "Singleton", xa="left")
R(55, 448, 77, 471, REDS[0]); R(80.5, 448, 103, 471, BLUES[0])
T(115, 461, "Small clones", xa="left"); T(115, 485, "(2-9 cells/clone)", xa="left")
R(311, 400, 333, 422, REDS[1]); R(336.5, 400, 359, 422, BLUES[1])
T(371.5, 409, "Medium clones", xa="left"); T(371.5, 434, "(10-19 cells/clone)", xa="left")
R(311, 452, 333, 473, REDS[2]); R(336.5, 452, 359, 473, BLUES[2])
T(371.5, 461, "Large clones", xa="left"); T(371.5, 484, "(clone size ≥20)", xa="left")

# ============================ PANEL B ============================
B_POS = [0, 1, 2, 3, 4.935, 5.935, 6.935, 7.935]
B_COLS = [SINGLE] + REDS + [SINGLE] + BLUES
BOX_HW = 0.15
axes["xaxis2"] = axis(xdom(778, 1180), rng(778, 1180, 0, 819.6, 1, 861.3), anchor="y2")
axes["yaxis2"] = axis(ydom(134, 384), rng(384, 134, 2000, 272, 2400, 200.7), anchor="free", position=PX(778),
                      ticks="outside", ticklen=6, tickwidth=2.5, tickvals=[1600, 2000, 2400],
                      ticklabelstandoff=-2, showticklabels=True)
for i in range(8):
    pos, prof, col = B_POS[i], B_PROFILES[i], B_COLS[i]
    xs = [pos + w for v, w in prof] + [pos - w for v, w in reversed(prof)]
    ys = [v for v, w in prof] + [v for v, w in reversed(prof)]
    fig.add_trace(go.Scatter(x=xs, y=ys, mode="lines", fill="toself", fillcolor=col,
                             line=dict(color="#333333", width=1, shape="spline", smoothing=0.8),
                             xaxis="x2", yaxis="y2", hoverinfo="skip"))
    fig.add_trace(go.Scatter(x=[pos, pos], y=[B_MIN[i], B_MAX[i]], mode="lines",
                             line=dict(color="#444444", width=1), xaxis="x2", yaxis="y2", hoverinfo="skip"))
    fig.add_trace(go.Scatter(x=[pos - BOX_HW, pos + BOX_HW, pos + BOX_HW, pos - BOX_HW, pos - BOX_HW],
                             y=[B_Q1[i], B_Q1[i], B_Q3[i], B_Q3[i], B_Q1[i]], mode="lines", fill="toself",
                             fillcolor=col, line=dict(color="#333333", width=2), xaxis="x2", yaxis="y2",
                             hoverinfo="skip"))
    fig.add_trace(go.Scatter(x=[pos - BOX_HW, pos + BOX_HW], y=[B_MED[i], B_MED[i]], mode="lines",
                             line=dict(color="#222222", width=3.5), xaxis="x2", yaxis="y2", hoverinfo="skip"))
    ann.append(dict(x=pos, y=PY(393), xref="x2", yref="paper", text=B_LABELS[i], showarrow=False,
                    textangle=-90, xanchor="center", yanchor="top", font=dict(size=26, color="black", family=FONT)))
L(778, 134, 778, 377, w=3)
L(797.4, 384, 973.3, 384, w=3.5); L(1003.5, 384, 1178.7, 384, w=3.5)
L(825, 520, 1137, 520, w=2); T(1000, 539, "Clone size")
L(808, 82, 959, 82, w=3.5); T(887, 64, "CD4", size=27)
L(1018, 82, 1158, 82, w=3.5); T(1091.5, 64, "CD8", size=27)
T(647, 273, "GSE13738_TCR_VS_Bystander_", size=27, angle=-90)
T(680, 280, "Activated_CD4_Tcell_Up", size=27, angle=-90)
for (x0, x1, y, xc), s in zip([(818, 861, 99, 839), (818, 903, 110, 860), (818, 945, 123, 881)], B_SIG_CD4):
    L(x0, y, x1, y, w=1.8); T(xc, y + 1, s, size=20)
for (x0, x1, y, xc), s in zip([(1024.6, 1066, 102, 1045), (1024.6, 1109, 112.5, 1066.5), (1024.6, 1151, 126, 1088)], B_SIG_CD8):
    L(x0, y, x1, y, w=1.8)
    T(xc, y - 7 if s == "ns" else y + 1, s, size=21 if s == "ns" else 20)

# ============================ PANEL C ============================
C_ROW_POS = [0, 1.13, 2.13, 3.13, 5.06, 6.13, 7.83, 8.97, 10.09, 11.09, 12.52, 13.58, 15.13, 16.17, 17.05, 18.05]
C_SCALE = [[0, "#ff0000"], [0.17, "#f4432f"], [0.343, "#dd8270"], [0.5156, "#c2c0c4"],
           [0.689, "#9b88d8"], [0.862, "#6a4bf0"], [1, "#1010ff"]]
axes["xaxis3"] = axis(xdom(1341, 1628), rng(1341, 1628, 0, 1374.3, 1, 1447.9), anchor="free", position=PY(543),
                      showline=True, linewidth=3, ticks="outside", ticklen=6, tickwidth=2.5, tickvals=[0, 1, 2, 3],
                      ticktext=C_GROUPS, tickangle=-45, ticklabelstandoff=-9, showticklabels=True)
axes["yaxis3"] = axis(ydom(36, 543), rng(543, 36, 0, 53, 1, 79.5), anchor="free", position=PX(1338.4),
                      ticks="outside", ticklen=5, tickwidth=2.5, tickvals=C_ROW_POS, ticktext=C_GENES,
                      ticklabelstandoff=-3, showticklabels=True)
cx, cy, cs, cc = [], [], [], []
for gi in range(len(C_GENES)):
    for j in range(4):
        cx.append(j); cy.append(C_ROW_POS[gi])
        cs.append(4 + 0.27 * C_PCT[gi][j]); cc.append(-C_AVG[gi][j])
fig.add_trace(go.Scatter(
    x=cx, y=cy, mode="markers", xaxis="x3", yaxis="y3", hoverinfo="skip",
    marker=dict(size=cs, color=cc, colorscale=C_SCALE, cmin=-1.49, cmax=1.40, line=dict(width=0), opacity=1,
                showscale=True,
                colorbar=dict(x=PX(1871.8), xanchor="left", y=PY(151.8), yanchor="top", len=156.2,
                              lenmode="pixels", thickness=14.8, thicknessmode="pixels", xpad=0, ypad=0,
                              outlinewidth=0, tickvals=[1.0, 0.5, 0, -0.5, -1.0],
                              ticktext=["-1.0", "-0.5", "0", "0.5", "1.0"], ticks="inside", ticklen=4,
                              tickcolor="white", tickwidth=1.5,
                              tickfont=dict(size=25, color="black", family=FONT)))))
for a, b in [(45, 143.7), (178.8, 224.5), (253, 357), (382.4, 420.4), (440.8, 538.8)]:
    L(1338.4, a, 1338.4, b, w=3)
L(1374.3, 36, 1594.5, 36, w=3.5); T(1477, 20, "CD4", size=27)
for s, y in zip(C_MODULES, [102, 200, 307, 398, 488]):
    T(1734.5, y, s)
T(1898, 112, "Average<br>Expression")
T(1898, 408, "Percent<br>Expressed")

# ============================ PANEL D ============================
D_TICKS4 = list(range(9))
D_TICKS5 = list(range(10))
DFONT = dict(size=26, color="black", family=FONT)
axes["xaxis4"] = axis(xdom(125.3, 375.5), rng(125.3, 375.5, 0, 143.5, 1, 171.6), anchor="free", position=PY(968),
                      showline=True, linewidth=3, ticks="outside", ticklen=7, tickwidth=2.5, tickvals=D_TICKS4,
                      ticktext=["2<sup>%d</sup>" % k for k in D_TICKS4], showticklabels=True, tickfont=DFONT,
                      ticklabelstandoff=-4)
axes["yaxis4"] = axis(ydom(649, 968), rng(968, 649, 0, 918.3, 1, 888.5), anchor="free", position=PX(125.3),
                      ticks="outside", ticklen=7, tickwidth=2.5, tickvals=[-1] + D_TICKS4,
                      ticktext=["0"] + ["2<sup>%d</sup>" % k for k in D_TICKS4], showticklabels=True,
                      ticklabelstandoff=-3, tickfont=dict(size=27, color="black", family=FONT))
axes["xaxis5"] = axis(xdom(389, 679), rng(389, 679, 0, 407.5, 1, 435.56), anchor="free", position=PY(968),
                      showline=True, linewidth=3, ticks="outside", ticklen=7, tickwidth=2.5, tickvals=D_TICKS5,
                      ticktext=["2<sup>%d</sup>" % k for k in D_TICKS5], showticklabels=True, tickfont=DFONT,
                      ticklabelstandoff=-4)
axes["yaxis5"] = axis(ydom(649, 968), rng(968, 649, 0, 918.3, 1, 888.5), anchor="x5")
fig.add_trace(go.Scatter(x=[p[0] for p in D_CD4], y=[p[1] for p in D_CD4], mode="markers", xaxis="x4", yaxis="y4",
                         marker=dict(size=7, color="#e8172b", opacity=0.85, line=dict(color="#7a0a14", width=0.6)),
                         hoverinfo="skip"))
fig.add_trace(go.Scatter(x=[p[0] for p in D_CD8], y=[p[1] for p in D_CD8], mode="markers", xaxis="x5", yaxis="y5",
                         marker=dict(size=7, color="#3b76dc", opacity=0.85, line=dict(color="#183a86", width=0.6)),
                         hoverinfo="skip"))
L(125.3, 649, 125.3, 929, w=3); L(125.3, 937, 125.3, 968, w=3)
L(119, 932, 131, 925, w=2); L(119, 940, 131, 933, w=2)
L(146, 639, 337, 639, w=3.5); T(246, 621, "CD4", size=27)
L(409, 639, 662.5, 639, w=3.5); T(540.5, 621, "CD8", size=27)
T(64.6, 813, "Clonotype size in blood", angle=-90)
T(356, 1022, "Clonotype size in eye")
T(134, 1058, "Single CD4 T cell clonotype", xa="left")
T(134, 1083, "Single CD8 T cell clonotype", xa="left")

# ============================ PANEL E ============================
E_ticktext = [str(v) for v in E_XTICKS]
for i, (xd, xr_) in zip((6, 7), [((63.8, 366.3), (-6, 63.8, 4, 364.8)), ((410.7, 713.3), (-6, 410.7, 4, 711.7))]):
    axes["xaxis%d" % i] = axis(xdom(*xd), rng(xd[0], xd[1], *xr_), anchor="free", position=PY(1646.2),
                               showline=True, linewidth=3, ticks="outside", ticklen=7, tickwidth=2.5,
                               tickvals=E_XTICKS, ticktext=E_ticktext, showticklabels=True, ticklabelstandoff=-7)
    axes["yaxis%d" % i] = axis(ydom(1300, 1646.2), rng(1646.2, 1300, 0, 1646.2, 1, 1592.73), anchor="x%d" % i)
for ridges, cols, xa, ya in [(E_CD4, [SINGLE] + REDS, "x6", "y6"), (E_CD8, [SINGLE] + BLUES, "x7", "y7")]:
    for k, ridge in enumerate(ridges):
        base = 3 - k
        fig.add_trace(go.Scatter(x=[-6, 4.05], y=[base, base], mode="lines", line=dict(color="#7f7f7f", width=1.5),
                                 xaxis=xa, yaxis=ya, hoverinfo="skip"))
        fig.add_trace(go.Scatter(x=[p[0] for p in ridge], y=[base + p[1] for p in ridge], mode="lines",
                                 fill="tonexty", fillcolor=cols[k],
                                 line=dict(color="#2b2b2b", width=0.9, shape="spline", smoothing=0.6),
                                 xaxis=xa, yaxis=ya, hoverinfo="skip"))
    shp.append(dict(type="line", xref=xa, yref=ya, x0=0, x1=0, y0=0, y1=3, layer="above",
                    line=dict(color="#a6a6a6", width=1.5)))
L(71.4, 1311, 343, 1311, w=3.5); T(228.6, 1294, "CD4", size=27)
L(418, 1311, 690, 1311, w=3.5); T(567.3, 1294, "CD8", size=27)
T(752.6, 1668, "LFR")
AY = 1693
for tip, tail in [(63.8, 234.7), (368, 256), (410.7, 581.6), (713.3, 603.6)]:
    d = 1 if tail > tip else -1
    base = tip + d * 28
    L(tail, AY, base, AY, w=4)
    TRI([(tip, AY), (base, AY - 11.5), (base, AY + 11.5)])
for xl, xr in [(67.3, 366), (412.2, 710.7)]:
    T(xl, 1717.5, "Enriched", xa="left"); T(xl, 1740.5, "in blood", xa="left")
    T(xr, 1717.5, "Enriched", xa="right"); T(xr, 1740.5, "in eye", xa="right")
R(67.3, 1772, 89.3, 1793.6, SINGLE); T(102, 1786, "Singleton", xa="left")
for (y0, y1, yt, s), lev in zip([(1800.7, 1821.7, 1812.6, "Small clones (2-9 cells/clone)"),
                                  (1828.4, 1850, 1839.5, "Medium clones (10-19 cells/clone)"),
                                  (1857.3, 1878.7, 1866, "Large clones (clone size ≥20)")], range(3)):
    R(67.3, y0, 89.3, y1, REDS[lev]); R(93, y0, 115, y1, BLUES[lev])
    T(127.6, yt, s, xa="left")

# ============================ PANEL F ============================
GRID, GRIDM = "#e4e4e4", "#f0f0f0"
FFONT = dict(size=25, color="black", family=FONT)
def faxis_x(dom, r, anchor):
    return axis(xdom(*dom), r, anchor=anchor, showline=True, linewidth=3, ticks="outside", ticklen=6, tickwidth=2,
                tickmode="linear", tick0=0, dtick=5, showticklabels=True, showgrid=True, gridcolor=GRID,
                gridwidth=1, minor=dict(tick0=0, dtick=2.5, showgrid=True, gridcolor=GRIDM, gridwidth=1),
                tickfont=FFONT, ticklabelstandoff=-7)
def faxis_y(dom, r, anchor, dt):
    return axis(ydom(*dom), r, anchor=anchor, showline=True, linewidth=3, ticks="outside", ticklen=6, tickwidth=2,
                tickmode="linear", tick0=0, dtick=dt, showticklabels=True, showgrid=True, gridcolor=GRID,
                gridwidth=1, minor=dict(tick0=0, dtick=dt / 2, showgrid=True, gridcolor=GRIDM, gridwidth=1),
                tickfont=FFONT)
axes["xaxis8"] = faxis_x((822.6, 1105.2), rng(822.6, 1105.2, 0, 841.3, 5, 926.3), "y8")
axes["yaxis8"] = faxis_y((681.2, 912), rng(912, 681.2, 0, 892.3, 5, 825.7), "x8", 5)
axes["xaxis9"] = faxis_x((821.7, 1095), rng(821.7, 1095, 0, 841.8, 5, 911.65), "y9")
axes["yaxis9"] = faxis_y((976, 1191.8), rng(1191.8, 976, 0, 1174.7, 10, 1080.7), "x9", 10)
for pts, col, op, xa, ya in [(F_UV027_GRAY, "#bdbdbd", 0.75, "x8", "y8"), (F_UV027_RED, "#f24a4a", 0.8, "x8", "y8"),
                             (F_UV215_GRAY, "#bdbdbd", 0.75, "x9", "y9"), (F_UV215_RED, "#f24a4a", 0.8, "x9", "y9")]:
    fig.add_trace(go.Scatter(x=[p[0] for p in pts], y=[p[1] for p in pts], mode="markers", xaxis=xa, yaxis=ya,
                             marker=dict(size=7, color=col, opacity=op, line=dict(width=0)), hoverinfo="skip"))
L(833.75, 641, 1087.3, 641, w=3.5); T(961, 624, "CD4", size=27)
T(965.4, 667, "<u>UV027</u>"); T(965.4, 961, "<u>UV215</u>")
T(949.8, 1243, "Flare 1 Clonotype Size")
T(760, 937.6, "Flare 2 Clonotype Size", angle=-90)
T(1166.3, 866, "Antigen activated", xa="left"); T(1166.3, 890.6, "clonotypes", xa="left")

# ============================ PANEL G ============================
GFONT = dict(size=25, color="black", family=FONT)
axes["xaxis10"] = axis(xdom(1584.9, 1947.1), rng(1584.9, 1947.1, 0, 1764.9, 1, 1799.48), anchor="free",
                       position=PY(1190), showline=True, linewidth=3.5, ticks="outside", ticklen=6, tickwidth=2.5,
                       tickvals=G_XTICKS, ticktext=[str(v) for v in G_XTICKS], showticklabels=True, tickfont=GFONT,
                       ticklabelstandoff=-10)
axes["yaxis10"] = axis(ydom(797.4, 1181.7), rng(1181.7, 797.4, 0, 1176.2, 100, 1059.3), anchor="free",
                       position=PX(1570.4), showline=True, linewidth=3.5, ticks="outside", ticklen=7, tickwidth=2.5,
                       tickvals=G_YTICKS, ticktext=[str(v) for v in G_YTICKS], showticklabels=True, tickfont=GFONT)
for v in (-1, 1):
    shp.append(dict(type="line", xref="x10", yref="paper", x0=v, x1=v, y0=PY(1183.5), y1=PY(795),
                    line=dict(color="#3a3a3a", width=1.3)))
G_BLUE_C, G_RED_C = "#1010ee", "#f01010"
for pts, col in [(G_GRAY, "#bfbfbf"), (G_BLUE, G_BLUE_C), (G_RED, G_RED_C),
                 ([(g[1], g[2]) for g in G_DOWN_GENES], G_BLUE_C),
                 ([(g[1], g[2]) for g in G_UP_GENES], G_RED_C)]:
    fig.add_trace(go.Scatter(x=[p[0] for p in pts], y=[p[1] for p in pts], mode="markers", xaxis="x10", yaxis="y10",
                             marker=dict(size=5.5, color=col, line=dict(width=0)), hoverinfo="skip"))
G_LABEL_OFFSETS = {  # label placement (pixels from the point)
    "CCR7": (-6, -88), "ICAM2": (53, -43), "TCF7": (-49, -12), "S1PR1": (14, -33), "SELL": (-38, 40),
    "KLF2": (-2, -13), "SOCS3": (-47, -24), "FOS": (-54, -11), "CD55": (-55, 20), "JUND": (-47, 17),
    "GZMA": (-29, -24), "CXCR6": (71, -38), "HLA-DRB1": (75, -12), "CPNE7": (71, -8), "IFNG": (-48, 9),
    "GZMH": (51, 1), "NCR3": (57, 17), "CTSH": (43, -18), "TOX2": (38, 1), "ID2": (35, 1), "OASL": (44, -16),
    "TESC": (63, -9), "GLUL": (78, 7), "DUSP6": (59, 18), "CD38": (45, 39), "RORC": (62, 6),
}
for genes, col in [(G_DOWN_GENES, G_BLUE_C), (G_UP_GENES, G_RED_C)]:
    for name, gx, gy in genes:
        dx, dy = G_LABEL_OFFSETS[name]
        a = dict(x=gx, y=gy, xref="x10", yref="y10", text=name, font=dict(size=26, color=col, family=FONT))
        if name == "KLF2":
            a.update(showarrow=False, xshift=dx, yshift=-dy)
        else:
            a.update(showarrow=True, arrowhead=0, arrowwidth=1.4, arrowcolor=col, ax=dx, ay=dy, standoff=2)
        ann.append(a)
L(1595.8, 767.3, 1910.2, 767.3, w=3.5); T(1766, 751, "CD4", size=27)
T(1485.3, 1012.6, "-Log<sub>10</sub>(p value)", angle=-90)
T(1764.2, 1238, "Avg Log<sub>2</sub>(FC)")

# ============================ PANEL H ============================
HGRID = "#a9a9a9"
H_SCALE = [[0, "#d8305a"], [0.2, "#c22a86"], [0.5, "#9b29c9"], [0.8, "#6428ee"], [1, "#2323ff"]]
axes["xaxis11"] = axis(xdom(1476.4, 1867), rng(1476.4, 1867, 0, 1677.1, 1, 1763.2), anchor="y11",
                       ticks="outside", ticklen=5, tickwidth=2, tickcolor="#333333", tickvals=H_XTICKS,
                       ticktext=[str(v) for v in H_XTICKS], showticklabels=True, showgrid=True, gridcolor=HGRID,
                       gridwidth=1.2, minor=dict(tickvals=[-1.5, -0.5, 0.5, 1.5], showgrid=True, gridcolor=HGRID,
                                                 gridwidth=1.2, ticks=""),
                       ticklabelstandoff=-5, tickfont=dict(size=26, color="black", family=FONT))
axes["yaxis11"] = axis(ydom(1318.8, 1842.8), rng(1842.8, 1318.8, 0, 1333.2, 1, 1359.53), anchor="x11",
                       ticks="outside", ticklen=5, tickwidth=2, tickcolor="#333333",
                       tickvals=list(range(len(H_TERMS))), ticktext=H_TERMS, showticklabels=True, showgrid=True,
                       gridcolor=HGRID, gridwidth=1.2, tickfont=dict(size=19, color="black", family=FONT))
fig.add_trace(go.Scatter(
    x=H_NES, y=list(range(len(H_TERMS))), mode="markers", xaxis="x11", yaxis="y11", hoverinfo="skip",
    marker=dict(size=[math.sqrt(6.5 * s) for s in H_SIZE], color=[math.log10(p) for p in H_PADJ],
                colorscale=H_SCALE, cmin=-4.66, cmax=-1.44, line=dict(width=0), opacity=1, showscale=True,
                colorbar=dict(x=PX(1897.8), xanchor="left", y=PY(1615.9), yanchor="top", len=91, lenmode="pixels",
                              thickness=11.6, thicknessmode="pixels", xpad=0, ypad=0, outlinewidth=0,
                              tickvals=[-2, -3, -4], ticktext=["0.01", "0.001", "0.0001"], ticks="inside",
                              ticklen=4, tickcolor="white", tickwidth=1.5,
                              tickfont=dict(size=25, color="black", family=FONT)))))
T(1897.8, 1865.4, "NES", size=25)
T(1894, 1462.8, "Size", xa="left", size=25)
T(1894, 1594, "p adj.", xa="left", size=25)

# ============================ LEGEND KEYS (pixel overlay) ============================
axes["xaxis12"] = dict(domain=[0, 1], range=[0, W], visible=False, fixedrange=True, anchor="y12")
axes["yaxis12"] = dict(domain=[0, 1], range=[H, 0], visible=False, fixedrange=True, anchor="x12")
c_leg_y = [460, 494.7, 531.8]
fig.add_trace(go.Scatter(x=[1876] * 3, y=c_leg_y, mode="markers", xaxis="x12", yaxis="y12", hoverinfo="skip",
                         marker=dict(size=[4 + 0.27 * p for p in C_SIZE_LEGEND], color="black")))
for p, y in zip(C_SIZE_LEGEND, c_leg_y):
    T(1893, y, str(p), xa="left")
h_leg_y = [1494, 1533]
fig.add_trace(go.Scatter(x=[1901.7] * 2, y=h_leg_y, mode="markers", xaxis="x12", yaxis="y12", hoverinfo="skip",
                         marker=dict(size=[math.sqrt(6.5 * s) for s in H_SIZE_LEGEND], color="black")))
for s, y in zip(H_SIZE_LEGEND, h_leg_y):
    T(1921, y, str(s), xa="left", size=25)
fig.add_trace(go.Scatter(x=[122, 122], y=[1058, 1083], mode="markers", xaxis="x12", yaxis="y12", hoverinfo="skip",
                         marker=dict(size=7, color=["#e8172b", "#3b76dc"])))
fig.add_trace(go.Scatter(x=[1151.6], y=[866.2], mode="markers", xaxis="x12", yaxis="y12", hoverinfo="skip",
                         marker=dict(size=9, color="#f26060")))

# ============================ PANEL LETTERS ============================
for s, x, y in [("A", 31, 23), ("B", 629, 23), ("C", 1208, 22), ("D", 33, 619), ("E", 29, 1255),
                ("F", 759, 620), ("G", 1461, 721), ("H", 814, 1281)]:
    T(x, y, s, size=30, bold=True)

fig.update_layout(width=W, height=H, autosize=False,
                  margin=dict(l=0, r=0, t=0, b=0, pad=0, autoexpand=False), paper_bgcolor="white",
                  plot_bgcolor="rgba(0,0,0,0)", showlegend=False, barmode="stack", hovermode=False,
                  font=dict(family=FONT, color="black", size=26), annotations=ann, shapes=shp, **axes)
fig.write_html("out.html")
